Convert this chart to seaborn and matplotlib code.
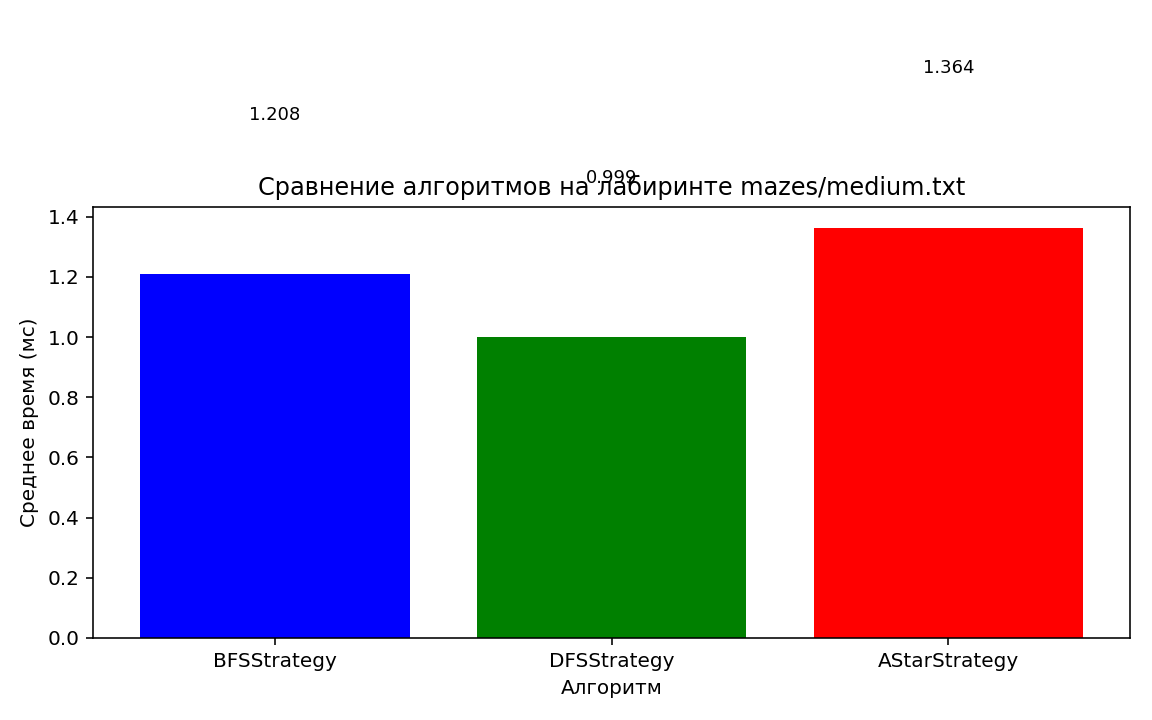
import matplotlib
matplotlib.use("Agg")
import matplotlib.pyplot as plt
import seaborn as sns
import pandas as pd

algorithms = ["BFSStrategy", "DFSStrategy", "AStarStrategy"]
avg_times = [1.208, 0.999, 1.364]
bar_colors = ["blue", "green", "red"]

df = pd.DataFrame({"Алгоритм": algorithms, "time": avg_times})

fig, ax = plt.subplots(figsize=(8, 5), dpi=144)
sns.barplot(data=df, x="Алгоритм", y="time", hue="Алгоритм",
            palette=bar_colors, saturation=1, width=0.8, legend=False, ax=ax)

for i, v in enumerate(avg_times):
    ax.text(i, v + 0.53, f"{v:.3f}", ha="center", va="center", fontsize=9, clip_on=False)

ax.set_xlim(-0.54, 2.54)
ax.set_ylim(0, 1.364 * 1.05)
ax.set_title("Сравнение алгоритмов на лабиринте mazes/medium.txt", fontsize=12)
ax.set_xlabel("Алгоритм")
ax.set_ylabel("Среднее время (мс)")

plt.subplots_adjust(left=0.081, right=0.981, bottom=0.114, top=0.7125)
plt.savefig("out.png")
